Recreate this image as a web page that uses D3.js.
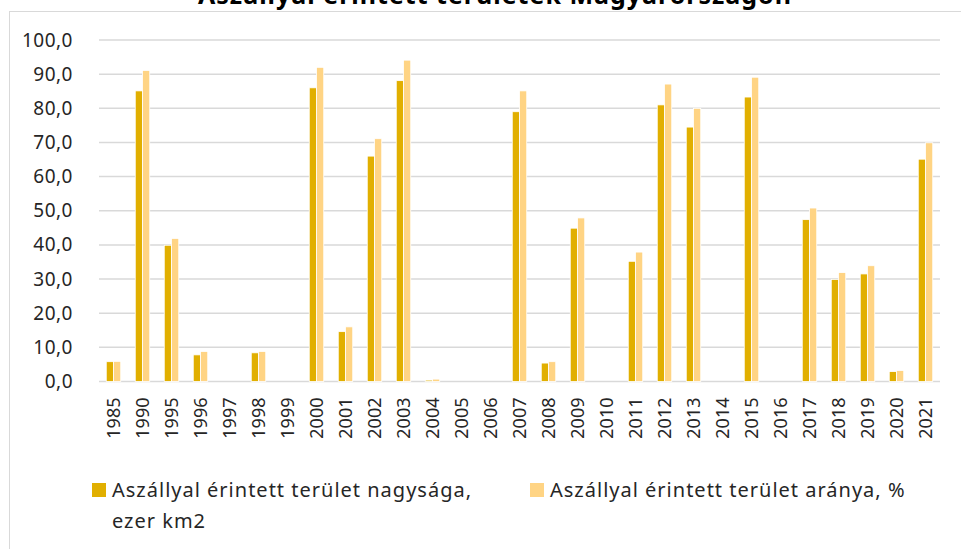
<!DOCTYPE html>
<html>
<head>
<meta charset="utf-8">
<script src="https://cdn.jsdelivr.net/npm/d3@7"></script>
<style>
  body { margin: 0; background: #fff; }
  svg { display: block; font-family: "Noto Sans", "Open Sans", sans-serif; }
</style>
</head>
<body>
<div id="chart"></div>
<script>
const years = ["1985", "1990", "1995", "1996", "1997", "1998", "1999", "2000", "2001", "2002",
  "2003", "2004", "2005", "2006", "2007", "2008", "2009", "2010", "2011", "2012",
  "2013", "2014", "2015", "2016", "2017", "2018", "2019", "2020", "2021"];
// Aszállyal érintett terület nagysága, ezer km2
const area = [5.8, 85.1, 39.9, 7.8, 0, 8.4, 0, 86.0, 14.6, 66.0,
  88.1, 0.4, 0, 0, 79.0, 5.4, 44.9, 0, 35.2, 81.0,
  74.5, 0, 83.3, 0, 47.4, 29.9, 31.5, 2.9, 65.1];
// Aszállyal érintett terület aránya, %
const share = [5.9, 91.1, 41.9, 8.8, 0, 8.8, 0, 92.0, 16.0, 71.1,
  94.1, 0.7, 0, 0, 85.1, 5.8, 47.9, 0, 37.9, 87.1,
  80.0, 0, 89.1, 0, 50.8, 31.9, 33.9, 3.2, 69.9];
const yTicks = [0, 10, 20, 30, 40, 50, 60, 70, 80, 90, 100];
const seriesNames = ["Aszállyal érintett terület nagysága,", "Aszállyal érintett terület aránya, %"];
const title = "Aszállyal érintett területek Magyarországon";

const width = 961, height = 549;
const margin = { top: 40, right: 21, bottom: 167.5, left: 99 };
const colors = ["#E1AF00", "#FFD484"];

const svg = d3.select("#chart").append("svg")
  .attr("width", width).attr("height", height);

// chart frame (runs off the right and bottom edges)
svg.append("rect")
  .attr("x", 9.5).attr("y", 11.5)
  .attr("width", 1000).attr("height", 600)
  .attr("fill", "#fff").attr("stroke", "#D9D9D9");

// title is partly cut off at the top, as in the original
svg.append("text")
  .attr("x", 495).attr("y", 4)
  .attr("text-anchor", "middle")
  .attr("font-size", 25).attr("font-weight", "bold")
  .attr("letter-spacing", 1)
  .attr("fill", "#000")
  .text(title);

const x = d3.scaleBand()
  .domain(years)
  .range([margin.left, width - margin.right])
  .paddingInner(0.5).paddingOuter(0.25);

const x1 = d3.scaleBand().domain([0, 1]).range([0, x.bandwidth()]);

const y = d3.scaleLinear()
  .domain([0, 100])
  .range([height - margin.bottom, margin.top]);

// grid
svg.append("g")
  .selectAll("line")
  .data(yTicks)
  .join("line")
  .attr("x1", margin.left).attr("x2", width - margin.right)
  .attr("y1", (d) => y(d)).attr("y2", (d) => y(d))
  .attr("stroke", "#D9D9D9").attr("stroke-width", 1.5);

const yAxis = d3.axisLeft(y).tickValues(yTicks)
  .tickFormat((d) => d3.format(".1f")(d).replace(".", ","))
  .tickSize(0).tickPadding(26);

svg.append("g")
  .attr("transform", `translate(${margin.left}, 0)`)
  .call(yAxis)
  .call((g) => g.select(".domain").remove())
  .selectAll("text")
  .attr("font-size", 19).attr("fill", "#262626")
  .attr("letter-spacing", 0.5)
  .attr("font-family", "Noto Sans, sans-serif");

// bars
const series = [area, share];
series.forEach((vals, s) => {
  svg.append("g")
    .selectAll("rect")
    .data(vals.map((v, i) => ({ year: years[i], v })).filter((d) => d.v > 0))
    .join("rect")
    .attr("x", (d) => x(d.year) + x1(s))
    .attr("width", x1.bandwidth())
    .attr("y", (d) => y(d.v))
    .attr("height", (d) => y(0) - y(d.v))
    .attr("fill", colors[s])
    .attr("stroke", "#fff").attr("stroke-width", 0.8);
});

const xAxis = d3.axisBottom(x).tickSize(0).tickPadding(0);
svg.append("g")
  .attr("transform", `translate(0, ${y(0)})`)
  .call(xAxis)
  .call((g) => g.select(".domain").remove())
  .selectAll("text")
  .attr("font-size", 18).attr("fill", "#262626")
  .attr("font-family", "Noto Sans, sans-serif")
  .attr("text-anchor", "end")
  .attr("transform", "rotate(-90)")
  .attr("x", -16).attr("y", 0).attr("dy", "0.35em");

// legend
const legend = svg.append("g")
  .attr("font-size", 20).attr("letter-spacing", 1).attr("fill", "#262626");
const legendX = [92, 530];
seriesNames.forEach((name, s) => {
  legend.append("rect")
    .attr("x", legendX[s]).attr("y", 483)
    .attr("width", 14).attr("height", 14)
    .attr("fill", colors[s]);
  legend.append("text")
    .attr("x", legendX[s] + 20).attr("y", 497)
    .text(name);
});
legend.append("text")
  .attr("x", legendX[0] + 20).attr("y", 528)
  .text("ezer km2");
</script>
</body>
</html>
